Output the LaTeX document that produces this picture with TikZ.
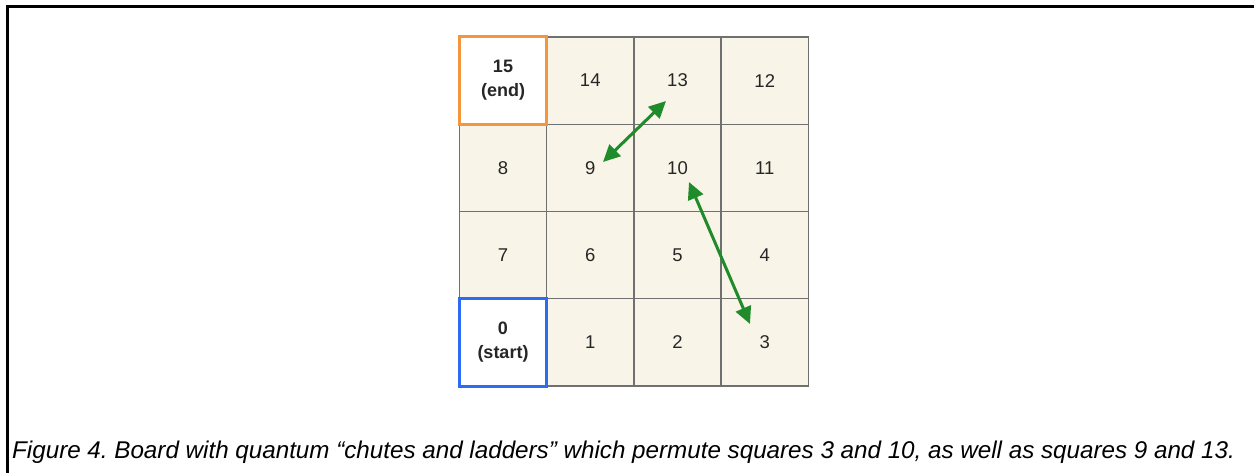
\documentclass[tikz,border=0pt]{standalone}
\usepackage{fontspec}
\setmainfont{Liberation Sans}
\usetikzlibrary{arrows.meta}
\definecolor{cellfill}{HTML}{F8F4E7}
\definecolor{gridgray}{HTML}{707070}
\definecolor{endorange}{HTML}{F2973E}
\definecolor{startblue}{HTML}{2B6CF2}
\definecolor{arrowgreen}{HTML}{1F8B2B}
\tikzset{
  cell/.style={draw=gridgray, line width=1.3pt, fill=cellfill, minimum width=87.25pt, minimum height=87.25pt, inner sep=0pt, outer sep=0pt, font=\fontsize{18.5}{22}\selectfont, text=black!85},
  special/.style={cell, fill=white, line width=3pt, font=\fontsize{18}{24}\selectfont\bfseries, align=center},
  chute/.style={draw=arrowgreen, line width=3pt, {Triangle[length=17pt,width=16pt]}-{Triangle[length=17pt,width=16pt]}},
  frame/.style={draw=black, line width=3.5pt},
  caption/.style={font=\fontsize{24.2}{28}\selectfont\itshape\frenchspacing, anchor=base west, inner sep=0pt}
}
\begin{document}
\begin{tikzpicture}[x=1pt,y=-1pt]
\useasboundingbox (0,0) rectangle (1254,473);
% frame
\draw[frame] (7.5,473) -- (7.5,6.5) -- (1254,6.5);
% grid cells
\node[cell] (c14) at (590.25,80.6) {14};
\node[cell] (c13) at (677.5,80.6) {13};
\node[cell] (c12) at (764.75,80.6) {12};
\node[cell] (c8) at (503,167.9) {8};
\node[cell] (c9) at (590.25,167.9) {9};
\node[cell] (c10) at (677.5,167.9) {10};
\node[cell] (c11) at (764.75,167.9) {11};
\node[cell] (c7) at (503,255.1) {7};
\node[cell] (c6) at (590.25,255.1) {6};
\node[cell] (c5) at (677.5,255.1) {5};
\node[cell] (c4) at (764.75,255.1) {4};
\node[cell] (c1) at (590.25,342.4) {1};
\node[cell] (c2) at (677.5,342.4) {2};
\node[cell] (c3) at (764.75,342.4) {3};
\node[special, draw=endorange] (c15) at (503,80.6) {15\\(end)};
\node[special, draw=startblue] (c0) at (503,342.4) {0\\(start)};
% chute endpoints
\coordinate (a9) at (603,162);
\coordinate (a13) at (666,101);
\coordinate (a10) at (689,182);
\coordinate (a3) at (750,324);
\draw[chute] (a9) -- (a13);
\draw[chute] (a10) -- (a3);
% caption
\node[caption] (cap) at (12,458) {Figure 4. Board with quantum “chutes and ladders” which permute squares 3 and 10, as well as squares 9 and 13.};
\end{tikzpicture}
\end{document}
